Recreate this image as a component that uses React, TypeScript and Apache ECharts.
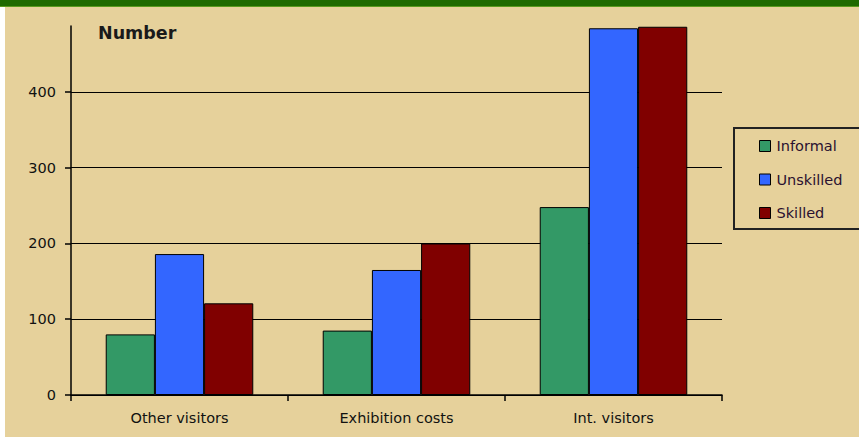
import React, { useEffect, useRef } from "react";
import * as echarts from "echarts";

const categories = ["Other visitors", "Exhibition costs", "Int. visitors"];
const informal = [80, 85, 248];
const unskilled = [186, 165, 484];
const skilled = [121, 200, 486];
const seriesNames = ["Informal", "Unskilled", "Skilled"];
const yTicks = [0, 100, 200, 300, 400];

const FONT = "DejaVu Sans";

export default function App() {
  const ref = useRef<HTMLDivElement>(null);
  useEffect(() => {
    document.body.style.margin = "0";
    const chart = echarts.init(ref.current!, undefined, { renderer: "svg" });
    const colors = ["#339966", "#3366FF", "#800000"];
    const data = [informal, unskilled, skilled];
    chart.setOption({
      animation: false,
      backgroundColor: "#E6D19B",
      textStyle: { fontFamily: FONT },
      grid: { left: 71, right: 137, top: 26, bottom: 44 },
      legend: {
        orient: "vertical",
        left: 759,
        top: 138,
        padding: 0,
        itemWidth: 11,
        itemHeight: 11,
        itemGap: 17.5,
        icon: "rect",
        selectedMode: false,
        itemStyle: { borderColor: "#000", borderWidth: 1 },
        textStyle: { fontFamily: FONT, fontSize: 14.5, lineHeight: 16, color: "#2a1030", padding: [0, 0, 0, 1] },
        data: seriesNames,
      },
      xAxis: {
        type: "category",
        data: categories,
        axisLine: { lineStyle: { color: "#000", width: 1.5 } },
        axisTick: { show: true, length: 6, lineStyle: { color: "#000", width: 1.5 } },
        axisLabel: { color: "#111", fontSize: 14.5, fontFamily: FONT, margin: 15 },
      },
      yAxis: {
        type: "value",
        min: 0,
        max: 487,
        interval: 100,
        axisLine: { show: true, lineStyle: { color: "#000", width: 1.5 } },
        axisTick: { show: true, length: 6, customValues: yTicks, lineStyle: { color: "#000", width: 1.5 } },
        axisLabel: {
          color: "#111",
          fontSize: 14.5,
          fontFamily: FONT,
          margin: 15,
          customValues: yTicks,
          formatter: (v: number) => (yTicks.includes(v) ? String(v) : ""),
        },
        splitLine: {
          show: true,
          lineStyle: {
            color: ["#000", "#000", "#000", "#000", "#000", "rgba(0,0,0,0)"],
            width: 1.2,
          },
        },
      },
      series: data.map((d, i) => ({
        name: seriesNames[i],
        type: "bar",
        data: d,
        barGap: "0%",
        barCategoryGap: "32%",
        itemStyle: { color: colors[i], borderColor: "#000", borderWidth: 1 },
      })),
      graphic: [
        { type: "rect", shape: { x: 0, y: 0, width: 859, height: 6 }, style: { fill: "#1F6A00" }, z: 10 },
        { type: "rect", shape: { x: 0, y: 6, width: 859, height: 1 }, style: { fill: "#5A9A1E" }, z: 10 },
        { type: "rect", shape: { x: 0, y: 0, width: 5, height: 439 }, style: { fill: "#FFFFFF" }, z: 9 },
        { type: "rect", shape: { x: 0, y: 437, width: 859, height: 2 }, style: { fill: "#FFFFFF" }, z: 9 },
        {
          type: "rect",
          shape: { x: 734, y: 128, width: 140, height: 101 },
          style: { fill: "rgba(0,0,0,0)", stroke: "#222", lineWidth: 2 },
          z: 5,
        },
        {
          type: "text",
          x: 98,
          y: 33,
          style: {
            text: "Number",
            font: `bold 17.5px ${FONT}`,
            fill: "#1a1a1a",
            textVerticalAlign: "middle",
          },
          z: 10,
        },
      ],
    });
    return () => chart.dispose();
  }, []);
  return <div ref={ref} style={{ position: "fixed", left: 0, top: 0, width: 859, height: 439 }} />;
}
